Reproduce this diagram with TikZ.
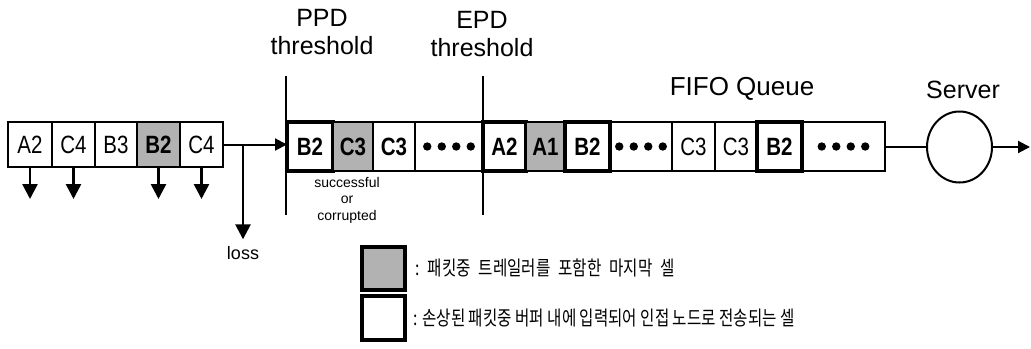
\documentclass[tikz,border=0pt]{standalone}
\usepackage{fontspec}
\setmainfont{Liberation Sans}
\newfontfamily\cellfont[FakeStretch=0.82]{Liberation Sans}
\newfontfamily\korfont[FakeStretch=0.78]{Noto Sans CJK KR}
\usetikzlibrary{arrows.meta,shapes.geometric}

\begin{document}
\begin{tikzpicture}[
    x=0.5pt, y=-0.5pt,
    cell/.style      = {draw, line width=0.8pt, anchor=west, outer sep=0pt,
                        inner sep=0pt, minimum height=24.5pt,
                        font=\cellfont\fontsize{12.5}{14}\selectfont},
    incell/.style    = {cell, minimum height=22.5pt},
    % shaded cell: last cell of a packet (carries the trailer)
    lastcell/.style  = {fill=gray!60,
                        font=\cellfont\bfseries\fontsize{12.5}{14}\selectfont},
    % heavy frame: corrupted packet cell kept and forwarded
    keptcell/.style  = {line width=2pt,
                        font=\cellfont\bfseries\fontsize{12.5}{14}\selectfont},
    boldtxt/.style   = {font=\cellfont\bfseries\fontsize{12.5}{14}\selectfont},
    title/.style     = {align=center, font=\fontsize{12.5}{14}\selectfont},
    note/.style      = {align=center, font=\fontsize{7}{8.25}\selectfont},
    legtxt/.style    = {anchor=west, inner sep=0pt,
                        font=\korfont\fontsize{10}{12}\selectfont},
    flow/.style      = {-{Triangle[length=6pt, width=6pt]}, line width=1pt},
    droparrow/.style = {-{Triangle[length=7.5pt, width=7.5pt]}, line width=1.3pt},
    thresh/.style    = {line width=0.8pt},
    server/.style    = {ellipse, draw, line width=1pt, inner sep=0pt,
                        minimum width=32.5pt, minimum height=35.5pt},
]
\useasboundingbox (0,0) rectangle (1031,348);

% ------------------------------------------------------------
%  INCOMING CELLS (left)
% ------------------------------------------------------------
\node[incell, minimum width=22pt]             (L1) at (8,144.5)   {A2};
\node[incell, minimum width=21.5pt]           (L2) at (52,144.5)  {C4};
\node[incell, minimum width=21pt]             (L3) at (95,144.5)  {B3};
\node[incell, lastcell, minimum width=21.5pt] (L4) at (137,144.5) {B2};
\node[incell, minimum width=21.5pt]           (L5) at (180,144.5) {C4};

% discarded cells
\draw[droparrow] (L1.south) -- ++(0,32);
\draw[droparrow] (L2.south) -- ++(0,32);
\draw[droparrow] (L4.south) -- ++(0,32);
\draw[droparrow] (L5.south) -- ++(0,32);

% ------------------------------------------------------------
%  FIFO QUEUE
% ------------------------------------------------------------
\node[cell, keptcell, minimum width=23pt]   (M1)  at (287,146.5) {B2};
\node[cell, lastcell, minimum width=20pt]   (M2)  at (333,146.5) {C3};
\node[cell, boldtxt, minimum width=21pt]    (M3)  at (373,146.5) {C3};
\node[cell, minimum width=34pt]             (M4)  at (415,146.5) {};
\node[cell, keptcell, minimum width=21.5pt] (M5)  at (483,146.5) {A2};
\node[cell, lastcell, minimum width=19.5pt] (M6)  at (526,146.5) {A1};
\node[cell, keptcell, minimum width=22.5pt] (M7)  at (565,146.5) {B2};
\node[cell, minimum width=31pt]             (M8)  at (610,146.5) {};
\node[cell, minimum width=21.5pt]           (M9)  at (672,146.5) {C3};
\node[cell, minimum width=21pt]             (M10) at (715,146.5) {C3};
\node[cell, keptcell, minimum width=22.5pt] (M11) at (757,146.5) {B2};
\node[cell, minimum width=41.5pt]           (M12) at (802,146.5) {};

% dots in the open cells
\foreach \cel in {M4,M8,M12}
  \foreach \dx in {-21.75,-7.25,7.25,21.75}
    \fill ([xshift=\dx*0.5pt]\cel.center) circle (2.1pt);

% arrival line and loss branch
\coordinate (split) at (243,144.5);
\node[font=\fontsize{9}{10}\selectfont] (loss) at (243,253) {loss};
\draw[line width=1pt] (L5.east) -- (split);
\draw[flow] (split) -- (split -| M1.west);
\draw[droparrow] (split) -- (loss.north);

\node[note] (succ) at (347,200) {successful\\or\\corrupted};

% ------------------------------------------------------------
%  THRESHOLDS
% ------------------------------------------------------------
\coordinate (ppdT) at (286,76);
\coordinate (ppdB) at (286,215);
\coordinate (epdT) at (483,76);
\coordinate (epdB) at (483,215);
\draw[thresh] (ppdT) -- (ppdB);
\draw[thresh] (epdT) -- (epdB);
\node[title] (ppd) at (322,32) {PPD\\threshold};
\node[title] (epd) at (482,34) {EPD\\threshold};
\node[font=\fontsize{13}{15}\selectfont] (fifo) at (742,89) {FIFO Queue};

% ------------------------------------------------------------
%  SERVER
% ------------------------------------------------------------
\node[server] (srv) at (959.5,147) {};
\node[title] (srvlbl) at (963,90) {Server};
\coordinate (out) at (1030,147);
\draw[line width=1pt] (M12.east) -- (M12.east -| srv.west);
\draw[flow] (srv.east) -- (out);

% ------------------------------------------------------------
%  LEGEND
% ------------------------------------------------------------
\node[draw, line width=2pt, fill=gray!60, minimum width=21.5pt,
      minimum height=21.5pt] (legA) at (383.5,268.5) {};
\node[draw, line width=2pt, minimum width=21.5pt,
      minimum height=22pt] (legB) at (383.5,318) {};
\node[legtxt] (txtA) at (415,268)
  {\spaceskip=0.4em :\ 패킷중 트레일러를 포함한 마지막 셀};
\node[legtxt] (txtB) at (413,318)
  {: 손상된 패킷중 버퍼 내에 입력되어 인접 노드로 전송되는 셀};

\end{tikzpicture}
\end{document}
